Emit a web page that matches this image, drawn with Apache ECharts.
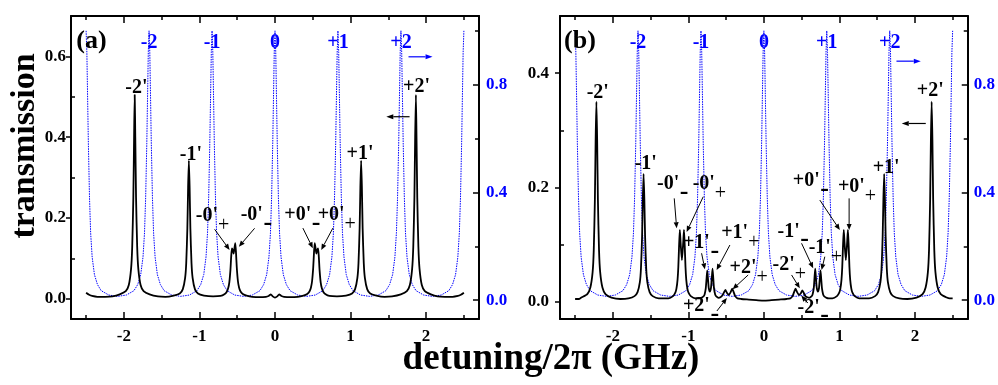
<!DOCTYPE html>
<html>
<head>
<meta charset="utf-8">
<script src="https://cdn.jsdelivr.net/npm/echarts@6/dist/echarts.min.js"></script>
<style>
  html, body { margin: 0; padding: 0; background: #fff; }
  #chart { width: 998px; height: 385px; }
</style>
</head>
<body>
<div id="chart"></div>
<script>
// ---- data -------------------------------------------------------------
// Cavity transmission (right axis), same in both panels: [detuning GHz, T]
const cavityMode = [
  [-2.5,1.0],[-2.49,0.92],[-2.48,0.75],[-2.47,0.58],[-2.455,0.38],[-2.44,0.25],[-2.42,0.16],[-2.39,0.095],[-2.35,0.058],[-2.3,0.035],[-2.2,0.019],[-2.083,0.014],
  [-1.967,0.019],[-1.867,0.035],[-1.817,0.058],[-1.777,0.095],[-1.747,0.16],[-1.727,0.25],[-1.712,0.38],[-1.697,0.58],[-1.687,0.75],[-1.677,0.92],[-1.667,1.0],
  [-1.657,0.92],[-1.647,0.75],[-1.637,0.58],[-1.622,0.38],[-1.607,0.25],[-1.587,0.16],[-1.557,0.095],[-1.517,0.058],[-1.467,0.035],[-1.367,0.019],[-1.25,0.014],
  [-1.133,0.019],[-1.033,0.035],[-0.983,0.058],[-0.943,0.095],[-0.913,0.16],[-0.893,0.25],[-0.878,0.38],[-0.863,0.58],[-0.853,0.75],[-0.843,0.92],[-0.833,1.0],
  [-0.823,0.92],[-0.813,0.75],[-0.803,0.58],[-0.788,0.38],[-0.773,0.25],[-0.753,0.16],[-0.723,0.095],[-0.683,0.058],[-0.633,0.035],[-0.533,0.019],[-0.417,0.014],
  [-0.3,0.019],[-0.2,0.035],[-0.15,0.058],[-0.11,0.095],[-0.08,0.16],[-0.06,0.25],[-0.045,0.38],[-0.03,0.58],[-0.02,0.75],[-0.01,0.92],[0,1.0],
  [0.01,0.92],[0.02,0.75],[0.03,0.58],[0.045,0.38],[0.06,0.25],[0.08,0.16],[0.11,0.095],[0.15,0.058],[0.2,0.035],[0.3,0.019],[0.417,0.014],
  [0.533,0.019],[0.633,0.035],[0.683,0.058],[0.723,0.095],[0.753,0.16],[0.773,0.25],[0.788,0.38],[0.803,0.58],[0.813,0.75],[0.823,0.92],[0.833,1.0],
  [0.843,0.92],[0.853,0.75],[0.863,0.58],[0.878,0.38],[0.893,0.25],[0.913,0.16],[0.943,0.095],[0.983,0.058],[1.033,0.035],[1.133,0.019],[1.25,0.014],
  [1.367,0.019],[1.467,0.035],[1.517,0.058],[1.557,0.095],[1.587,0.16],[1.607,0.25],[1.622,0.38],[1.637,0.58],[1.647,0.75],[1.657,0.92],[1.667,1.0],
  [1.677,0.92],[1.687,0.75],[1.697,0.58],[1.712,0.38],[1.727,0.25],[1.747,0.16],[1.777,0.095],[1.817,0.058],[1.867,0.035],[1.967,0.019],[2.083,0.014],
  [2.2,0.019],[2.3,0.035],[2.35,0.058],[2.39,0.095],[2.42,0.16],[2.44,0.25],[2.455,0.38],[2.47,0.58],[2.48,0.75],[2.49,0.92],[2.5,1.0]
];

// Probe transmission, panel (a): [detuning GHz, T]
const probeA = [
  [-2.5,0.015],[-2.46,0.010],[-2.42,0.007],[-2.35,0.005],[-2.25,0.005],[-2.15,0.006],[-2.055,0.011],[-1.975,0.019],[-1.935,0.034],[-1.905,0.074],
  [-1.89,0.128],[-1.875,0.25],[-1.865,0.40],[-1.857,0.505],[-1.849,0.40],[-1.839,0.25],[-1.824,0.128],[-1.809,0.074],[-1.779,0.034],[-1.739,0.019],
  [-1.659,0.011],[-1.55,0.006],[-1.45,0.005],[-1.34,0.008],[-1.26,0.013],[-1.22,0.024],[-1.19,0.051],[-1.175,0.088],[-1.16,0.174],[-1.15,0.276],
  [-1.14,0.342],[-1.13,0.276],[-1.12,0.174],[-1.105,0.088],[-1.09,0.051],[-1.06,0.024],[-1.02,0.013],[-0.94,0.008],[-0.82,0.006],[-0.72,0.007],
  [-0.67,0.011],[-0.64,0.017],[-0.62,0.026],[-0.605,0.040],[-0.59,0.071],[-0.58,0.104],[-0.57,0.125],[-0.56,0.121],[-0.548,0.112],[-0.537,0.125],
  [-0.526,0.138],[-0.516,0.114],[-0.506,0.078],[-0.491,0.044],[-0.476,0.028],[-0.456,0.018],[-0.426,0.012],[-0.376,0.008],[-0.3,0.005],[-0.2,0.004],
  [-0.12,0.005],[-0.085,0.007],[-0.055,0.011],[-0.03,0.006],[0,0.003],[0.03,0.006],[0.055,0.011],[0.085,0.007],[0.12,0.005],[0.2,0.004],
  [0.3,0.005],[0.376,0.008],[0.426,0.012],[0.456,0.018],[0.476,0.028],[0.491,0.044],[0.506,0.078],[0.516,0.114],[0.526,0.138],[0.537,0.125],
  [0.548,0.112],[0.56,0.121],[0.57,0.125],[0.58,0.104],[0.59,0.071],[0.605,0.040],[0.62,0.026],[0.64,0.017],[0.67,0.011],[0.72,0.007],
  [0.82,0.006],[0.94,0.008],[1.02,0.013],[1.06,0.024],[1.09,0.051],[1.105,0.088],[1.12,0.174],[1.13,0.276],[1.14,0.342],[1.15,0.276],
  [1.16,0.174],[1.175,0.088],[1.19,0.051],[1.22,0.024],[1.26,0.013],[1.34,0.008],[1.45,0.005],[1.55,0.006],[1.665,0.011],[1.745,0.019],
  [1.785,0.034],[1.815,0.074],[1.83,0.128],[1.845,0.25],[1.855,0.40],[1.865,0.505],[1.873,0.40],[1.883,0.25],[1.898,0.128],[1.913,0.074],
  [1.943,0.034],[1.983,0.019],[2.063,0.011],[2.15,0.006],[2.25,0.005],[2.35,0.005],[2.42,0.007],[2.46,0.010],[2.5,0.015]
];

// Probe transmission, panel (b): [detuning GHz, T]
const probeB = [
  [-2.5,0.005],[-2.45,0.005],[-2.418,0.0075],[-2.338,0.0135],[-2.298,0.025],[-2.268,0.052],[-2.253,0.09],[-2.238,0.179],[-2.228,0.284],[-2.218,0.35],
  [-2.208,0.284],[-2.198,0.179],[-2.183,0.09],[-2.168,0.052],[-2.138,0.025],[-2.098,0.0135],[-2.018,0.0075],[-1.9,0.005],[-1.793,0.006],[-1.713,0.010],
  [-1.673,0.017],[-1.643,0.034],[-1.628,0.058],[-1.613,0.114],[-1.603,0.18],[-1.593,0.224],[-1.583,0.18],[-1.573,0.114],[-1.558,0.058],[-1.543,0.034],
  [-1.513,0.017],[-1.473,0.010],[-1.393,0.006],[-1.263,0.006],[-1.203,0.010],[-1.173,0.016],[-1.158,0.023],[-1.143,0.039],[-1.133,0.061],[-1.123,0.098],
  [-1.113,0.126],[-1.103,0.104],[-1.0855,0.073],[-1.068,0.104],[-1.058,0.126],[-1.048,0.098],[-1.038,0.061],[-1.028,0.039],[-1.013,0.023],[-0.998,0.016],
  [-0.968,0.010],[-0.908,0.006],[-0.86,0.006],[-0.83,0.007],[-0.80,0.0095],[-0.785,0.013],[-0.77,0.023],[-0.76,0.039],[-0.75,0.055],[-0.74,0.040],
  [-0.73,0.024],[-0.715,0.018],[-0.70,0.025],[-0.69,0.041],[-0.68,0.058],[-0.67,0.041],[-0.66,0.023],[-0.645,0.013],[-0.63,0.0095],[-0.60,0.007],
  [-0.575,0.008],[-0.55,0.011],[-0.53,0.016],[-0.51,0.021],[-0.49,0.016],[-0.465,0.012],[-0.44,0.017],[-0.42,0.023],[-0.40,0.017],[-0.38,0.010],
  [-0.35,0.006],[-0.3,0.005],[-0.2,0.004],[-0.1,0.003],[0,0.002],[0.1,0.003],[0.2,0.004],[0.3,0.005],[0.35,0.006],[0.38,0.010],
  [0.40,0.017],[0.42,0.023],[0.44,0.017],[0.465,0.012],[0.49,0.015],[0.51,0.020],[0.53,0.015],[0.55,0.010],[0.575,0.008],[0.60,0.007],
  [0.63,0.0095],[0.645,0.013],[0.66,0.023],[0.67,0.041],[0.68,0.058],[0.69,0.041],[0.70,0.025],[0.715,0.018],[0.73,0.024],[0.74,0.040],
  [0.75,0.055],[0.76,0.039],[0.77,0.023],[0.785,0.013],[0.80,0.0095],[0.83,0.007],[0.86,0.006],[0.908,0.006],[0.968,0.010],[0.998,0.016],
  [1.013,0.023],[1.028,0.039],[1.038,0.061],[1.048,0.098],[1.058,0.126],[1.068,0.104],[1.0855,0.073],[1.103,0.104],[1.113,0.126],[1.123,0.098],
  [1.133,0.061],[1.143,0.039],[1.158,0.023],[1.173,0.016],[1.203,0.010],[1.263,0.006],[1.393,0.006],[1.473,0.010],[1.513,0.017],[1.543,0.034],
  [1.558,0.058],[1.573,0.114],[1.583,0.18],[1.593,0.224],[1.603,0.18],[1.613,0.114],[1.628,0.058],[1.643,0.034],[1.673,0.017],[1.713,0.010],
  [1.793,0.006],[1.9,0.005],[2.022,0.0075],[2.102,0.0135],[2.142,0.025],[2.172,0.052],[2.187,0.09],[2.202,0.179],[2.212,0.284],[2.222,0.35],
  [2.232,0.284],[2.242,0.179],[2.257,0.09],[2.272,0.052],[2.302,0.025],[2.342,0.0135],[2.422,0.0075],[2.46,0.006],[2.5,0.006]
];

// Tick values
const xMajorTicks = [-2, -1, 0, 1, 2];
const xMinorTicks = [-2.5, -1.5, -0.5, 0.5, 1.5, 2.5];
const leftMajorA = [0, 0.2, 0.4, 0.6];
const leftMinorA = [0.1, 0.3, 0.5];
const leftMajorB = [0, 0.2, 0.4];
const leftMinorB = [0.1, 0.3];
const rightMajor = [0, 0.4, 0.8];
const rightMinor = [0.2, 0.6, 1.0];

// Cavity mode order numbers, written above each resonance
const modeNames = ['-2', '-1', '0', '+1', '+2'];
const modeCenters = [-1.667, -0.833, 0, 0.833, 1.667];

// ---- annotations (data coordinates of the left axis) -------------------
const panelTags = [{ t: '(a)', p: [-2.43, 0.638] }, { t: '(b)', p: [-2.435, 0.456] }];
const peakNames = [
  [{ t: "-2'", p: [-1.835, 0.522] }, { t: "+2'", p: [1.873, 0.5255] }, { t: "-1'", p: [-1.112, 0.356] }, { t: "+1'", p: [1.126, 0.36] }],
  [{ t: "-2'", p: [-2.200, 0.366] }, { t: "+2'", p: [2.204, 0.369] }, { t: "-1'", p: [-1.564, 0.241] }, { t: "+1'", p: [1.619, 0.235] }]
];
const splitNames = [
  [{ t: "-0'", s: '+', p: [-0.755, 0.2057] }, { t: "-0'", s: '-', p: [-0.160, 0.2074] },
   { t: "+0'", s: '-', p: [0.480, 0.2074] }, { t: "+0'", s: '+', p: [0.921, 0.2074] }],
  [{ t: "-0'", s: '-', p: [-1.121, 0.206] }, { t: "-0'", s: '+', p: [-0.649, 0.206] },
   { t: "+1'", s: '-', p: [-0.715, 0.1024] }, { t: "+1'", s: '+', p: [-0.208, 0.1204] },
   { t: "+2'", s: '+', p: [-0.097, 0.0592] }, { t: "+2'", s: '-', p: [-0.715, -0.0073] },
   { t: "-1'", s: '-', p: [0.476, 0.1227] }, { t: "-1'", s: '+', p: [0.887, 0.0942] },
   { t: "-2'", s: '+', p: [0.410, 0.0645] }, { t: "-2'", s: '-', p: [0.741, -0.0099] },
   { t: "+0'", s: '-', p: [0.741, 0.2114] }, { t: "+0'", s: '+', p: [1.337, 0.2009] }]
];
const pointers = [
  [[-0.799, 0.172, -0.601, 0.121], [-0.270, 0.1745, -0.478, 0.129], [0.369, 0.175, 0.501, 0.125], [0.766, 0.175, 0.612, 0.121]],
  [[-1.187, 0.181, -1.155, 0.1287], [-0.803, 0.184, -1.023, 0.1222], [-0.825, 0.085, -0.781, 0.057], [-0.450, 0.0994, -0.626, 0.0557],
   [-0.208, 0.047, -0.414, 0.022], [-0.622, -0.016, -0.49, 0.0067], [0.499, 0.1024, 0.653, 0.0587], [0.807, 0.079, 0.764, 0.0557],
   [0.367, 0.047, 0.476, 0.0237], [0.582, -0.002, 0.495, 0.011], [0.741, 0.178, 1.006, 0.1257], [1.129, 0.181, 1.129, 0.1257]]
];
const axisPointers = [
  { black: [1.781, 0.4507, 1.473, 0.4507], blue: [1.767, 0.599, 2.085, 0.599] },
  { black: [2.144, 0.312, 1.826, 0.312], blue: [1.756, 0.421, 2.078, 0.421] }
];

// ---- chart ----------------------------------------------------------------
const FONT = '"Liberation Serif", "Times New Roman", serif';
const BLUE = '#0000ff';
const BLACK = '#000000';

const panels = [
  { left: 71, lmin: -0.05, lmax: 0.7, lMajor: leftMajorA, lMinor: leftMinorA, lMargin: 5, rMargin: 7, probe: probeA },
  { left: 560, lmin: -0.03, lmax: 0.5, lMajor: leftMajorB, lMinor: leftMinorB, lMargin: 11, rMargin: 6, probe: probeB }
];

const tickLabel = (color, margin, values, fmt) => ({
  show: true, customValues: values, margin: margin, color: color,
  fontFamily: FONT, fontWeight: 'bold', fontSize: 17, formatter: fmt
});
const frameLine = { show: true, onZero: false, lineStyle: { color: BLACK, width: 2 } };
const noLine = { show: false, onZero: false };
const ticks = (values, len, inside) => ({
  show: true, inside: inside, length: len, customValues: values,
  lineStyle: { color: BLACK, width: 1.5 }
});

const grids = [], xAxes = [], yAxes = [], series = [];
panels.forEach((pn, g) => {
  grids.push({ left: pn.left, top: 16, width: 408, height: 303 });
  const xb = { type: 'value', gridIndex: g, min: -2.7, max: 2.7, splitLine: { show: false } };
  xAxes.push(
    { ...xb, position: 'bottom', axisLine: frameLine, axisTick: ticks(xMajorTicks, 7, true),
      axisLabel: tickLabel(BLACK, 9, xMajorTicks, v => String(v)) },
    { ...xb, position: 'bottom', axisLine: noLine, axisTick: ticks(xMinorTicks, 4, true), axisLabel: { show: false } },
    { ...xb, position: 'top', axisLine: frameLine, axisTick: ticks(xMajorTicks, 7, true), axisLabel: { show: false } },
    { ...xb, position: 'top', axisLine: noLine, axisTick: ticks(xMinorTicks, 4, true), axisLabel: { show: false } }
  );
  const yl = { type: 'value', gridIndex: g, position: 'left', min: pn.lmin, max: pn.lmax, splitLine: { show: false } };
  const yr = { type: 'value', gridIndex: g, position: 'right', min: -0.07, max: 1.055, splitLine: { show: false } };
  yAxes.push(
    { ...yl, axisLine: frameLine, axisTick: ticks(pn.lMajor, 5, false),
      axisLabel: tickLabel(BLACK, pn.lMargin, pn.lMajor, v => v.toFixed(1)) },
    { ...yl, axisLine: noLine, axisTick: ticks(pn.lMinor, 4, true), axisLabel: { show: false } },
    { ...yr, axisLine: frameLine, axisTick: ticks(rightMajor, 6, true),
      axisLabel: tickLabel(BLUE, pn.rMargin, rightMajor, v => v.toFixed(1)) },
    { ...yr, axisLine: noLine, axisTick: ticks(rightMinor, 4, true), axisLabel: { show: false } }
  );
  series.push(
    { type: 'line', xAxisIndex: 4 * g, yAxisIndex: 4 * g + 2, data: cavityMode, showSymbol: false,
      lineStyle: { color: BLUE, width: 1, type: [1.5, 1] }, silent: true, z: 2 },
    { type: 'line', xAxisIndex: 4 * g, yAxisIndex: 4 * g, data: pn.probe, showSymbol: false,
      smooth: 0.2, lineStyle: { color: BLACK, width: 1.8 }, silent: true, z: 3 }
  );
});

const chart = echarts.init(document.getElementById('chart'), null, { renderer: 'canvas' });
chart.setOption({
  animation: false,
  backgroundColor: '#ffffff',
  grid: grids, xAxis: xAxes, yAxis: yAxes, series: series
});

// ---- text and arrows placed through the axes -----------------------------
const px = (g, p, right) => chart.convertToPixel({ xAxisIndex: 4 * g, yAxisIndex: 4 * g + (right ? 2 : 0) }, p);

function label(x, y, text, font, color, align) {
  return { type: 'text', x: x, y: y, z: 10, silent: true,
    style: { text: text, font: font, fill: color, align: align || 'center', verticalAlign: 'middle',
             textAlign: align || 'center', textVerticalAlign: 'middle' } };
}
function arrow(p1, p2, color, head, half, width) {
  const dx = p2[0] - p1[0], dy = p2[1] - p1[1], L = Math.hypot(dx, dy);
  const ux = dx / L, uy = dy / L;
  const bx = p2[0] - ux * head, by = p2[1] - uy * head;
  return [
    { type: 'line', z: 10, silent: true, shape: { x1: p1[0], y1: p1[1], x2: bx, y2: by },
      style: { stroke: color, lineWidth: width } },
    { type: 'polygon', z: 10, silent: true,
      shape: { points: [[p2[0], p2[1]], [bx - uy * half, by + ux * half], [bx + uy * half, by - ux * half]] },
      style: { fill: color } }
  ];
}

const MAIN_FONT = 'bold 20px ' + FONT;
const graphics = [];
panels.forEach((pn, g) => {
  const tag = px(g, panelTags[g].p);
  graphics.push(label(tag[0], tag[1], panelTags[g].t, 'bold 26px ' + FONT, BLACK));
  modeNames.forEach((name, i) => {
    const q = px(g, [modeCenters[i], 0.955], true);
    graphics.push(label(q[0], q[1], name, 'bold 20px ' + FONT, BLUE));
  });
  peakNames[g].forEach(a => {
    const q = px(g, a.p);
    graphics.push(label(q[0], q[1], a.t, MAIN_FONT, BLACK));
  });
  splitNames[g].forEach(a => {
    const q = px(g, a.p);
    graphics.push(label(q[0], q[1], a.t, MAIN_FONT, BLACK, 'right'));
    if (a.s === '+') {
      graphics.push(label(q[0], q[1] + 10, '+', '20px ' + FONT, BLACK, 'left'));
    } else {
      graphics.push(label(q[0] + 0.5, q[1] + 8, '-', 'bold 26px ' + FONT, BLACK, 'left'));
    }
  });
  pointers[g].forEach(a => {
    graphics.push(...arrow(px(g, [a[0], a[1]]), px(g, [a[2], a[3]]), BLACK, 6, 2.5, 1));
  });
  const ap = axisPointers[g];
  graphics.push(...arrow(px(g, ap.black.slice(0, 2)), px(g, ap.black.slice(2)), BLACK, 7, 2.5, 1.2));
  graphics.push(...arrow(px(g, ap.blue.slice(0, 2)), px(g, ap.blue.slice(2)), BLUE, 7, 2.5, 1.2));
});

// axis titles
graphics.push({ type: 'text', x: 25, y: 146, rotation: Math.PI / 2, z: 10, silent: true,
  style: { text: 'transmission', font: 'bold 34px ' + FONT, fill: BLACK,
           align: 'center', verticalAlign: 'middle', textAlign: 'center', textVerticalAlign: 'middle' } });
graphics.push(label(551, 359, 'detuning/2\u03c0 (GHz)', 'bold 37px ' + FONT, BLACK));

chart.setOption({ graphic: graphics });
</script>
</body>
</html>
